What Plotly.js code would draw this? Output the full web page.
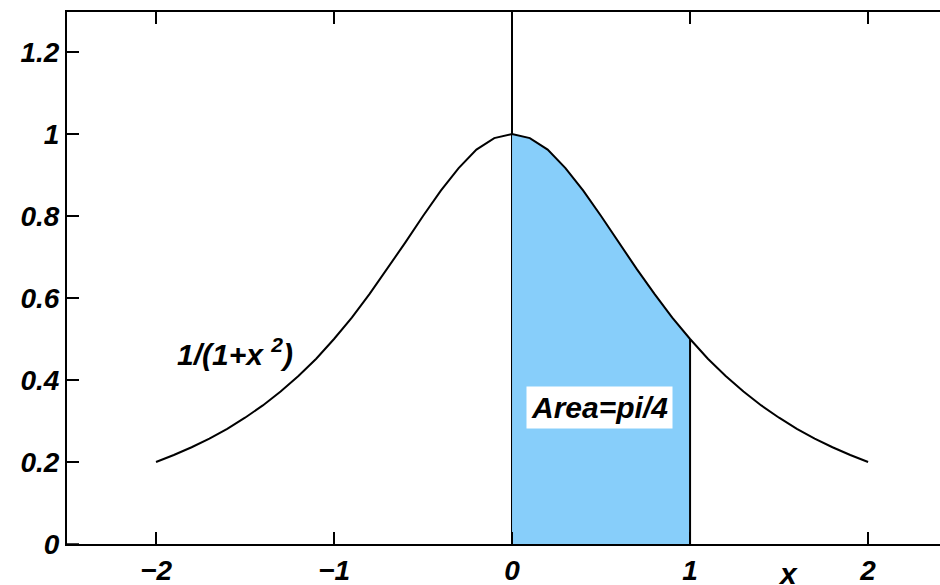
<!DOCTYPE html>
<html>
<head>
<meta charset="utf-8">
<script src="https://cdn.plot.ly/plotly-3.0.1.min.js"></script>
<style>html,body{margin:0;padding:0;background:#fff;overflow:hidden}</style>
</head>
<body>
<div id="chart" style="width:940px;height:585px"></div>
<script>
// curve samples
const curveX = [-2.0,-1.9,-1.8,-1.7,-1.6,-1.5,-1.4,-1.3,-1.2,-1.1,-1.0,-0.9,-0.8,-0.7,-0.6,-0.5,-0.4,-0.3,-0.2,-0.1,0.0,
                0.1,0.2,0.3,0.4,0.5,0.6,0.7,0.8,0.9,1.0,1.1,1.2,1.3,1.4,1.5,1.6,1.7,1.8,1.9,2.0];
const curveY = [0.200,0.217,0.236,0.257,0.281,0.308,0.338,0.372,0.410,0.452,0.500,0.552,0.610,0.671,0.735,0.800,0.862,0.917,0.962,0.990,1.000,
                0.990,0.962,0.917,0.862,0.800,0.735,0.671,0.610,0.552,0.500,0.452,0.410,0.372,0.338,0.308,0.281,0.257,0.236,0.217,0.200];
// shaded region 0..1
const areaX = [0.0,0.1,0.2,0.3,0.4,0.5,0.6,0.7,0.8,0.9,1.0];
const areaY = [1.000,0.990,0.962,0.917,0.862,0.800,0.735,0.671,0.610,0.552,0.500];
const edgeX = [1, 1];
const edgeY = [0, 0.5];
const xTicks = [-2, -1, 0, 1, 2];          // labels drawn by Plotly: −2 −1 0 1 2
const yTicks = [0, 0.2, 0.4, 0.6, 0.8, 1, 1.2]; // labels: 0 0.2 0.4 0.6 0.8 1 1.2
const curveLabel = '1/(1+x <sup>2</sup>)';
const areaLabel = 'Area=pi/4';
const xLabel = 'x';

const fam = 'Liberation Sans, Arial, sans-serif';
const tickFont = {family: fam, size: 28, color: '#000', weight: 'bold', style: 'italic'};
const annFont = {family: fam, size: 30, color: '#000', weight: 'bold', style: 'italic'};
const TL = 12;

const traces = [
  {x: areaX, y: areaY, type: 'scatter', mode: 'lines', fill: 'tozeroy',
   fillcolor: '#87CEFA', line: {width: 0, color: '#87CEFA'}, hoverinfo: 'skip'},
  {x: edgeX, y: edgeY, type: 'scatter', mode: 'lines', line: {color: '#000', width: 2}},
  {x: curveX, y: curveY, type: 'scatter', mode: 'lines', line: {color: '#000', width: 2}}
];

// inward tick marks placed through the axes' own scales
const tickLine = {color: '#000', width: 1.5};
const shapes = [];
xTicks.forEach(v => {
  shapes.push({type: 'line', xref: 'x', yref: 'paper', ysizemode: 'pixel', yanchor: 0,
               x0: v, x1: v, y0: 0, y1: TL, line: tickLine, layer: 'above'});
  shapes.push({type: 'line', xref: 'x', yref: 'paper', ysizemode: 'pixel', yanchor: 1,
               x0: v, x1: v, y0: 0, y1: -TL, line: tickLine, layer: 'above'});
});
yTicks.forEach(v => {
  shapes.push({type: 'line', xref: 'paper', yref: 'y', xsizemode: 'pixel', xanchor: 0,
               x0: 0, x1: TL, y0: v, y1: v, line: tickLine, layer: 'above'});
});

const layout = {
  width: 940, height: 585,
  margin: {l: 67, r: 0, t: 12, b: 41, pad: 0},
  paper_bgcolor: '#fff', plot_bgcolor: '#fff',
  showlegend: false,
  font: {family: fam, size: 28, color: '#000'},
  xaxis: {
    range: [-2.5, 2.404], tickmode: 'linear', tick0: xTicks[0], dtick: xTicks[1] - xTicks[0],
    ticks: 'inside', ticklen: TL, tickwidth: 1.5, tickcolor: '#000',
    showline: true, linewidth: 2, linecolor: '#000', mirror: 'ticks',
    showgrid: false, zeroline: true, zerolinewidth: 2, zerolinecolor: '#000',
    tickfont: tickFont
  },
  yaxis: {
    range: [0, 1.2976], tickmode: 'linear', tick0: yTicks[0], dtick: yTicks[1] - yTicks[0],
    ticks: 'inside', ticklen: TL, tickwidth: 1.5, tickcolor: '#000',
    showline: true, linewidth: 2, linecolor: '#000', mirror: false,
    showgrid: false, zeroline: false,
    tickfont: tickFont
  },
  shapes: shapes,
  annotations: [
    {x: -1.556, y: 0.468, xref: 'x', yref: 'y', text: curveLabel, showarrow: false, font: annFont},
    {x: 0.494, y: 0.334, xref: 'x', yref: 'y', text: areaLabel, showarrow: false, font: annFont,
     bgcolor: '#fff', borderpad: 4},
    {x: 1.55, y: -0.02, xref: 'x', yref: 'paper', yanchor: 'top', text: xLabel, showarrow: false, font: annFont}
  ]
};

Plotly.newPlot('chart', traces, layout, {displayModeBar: false});
</script>
</body>
</html>
